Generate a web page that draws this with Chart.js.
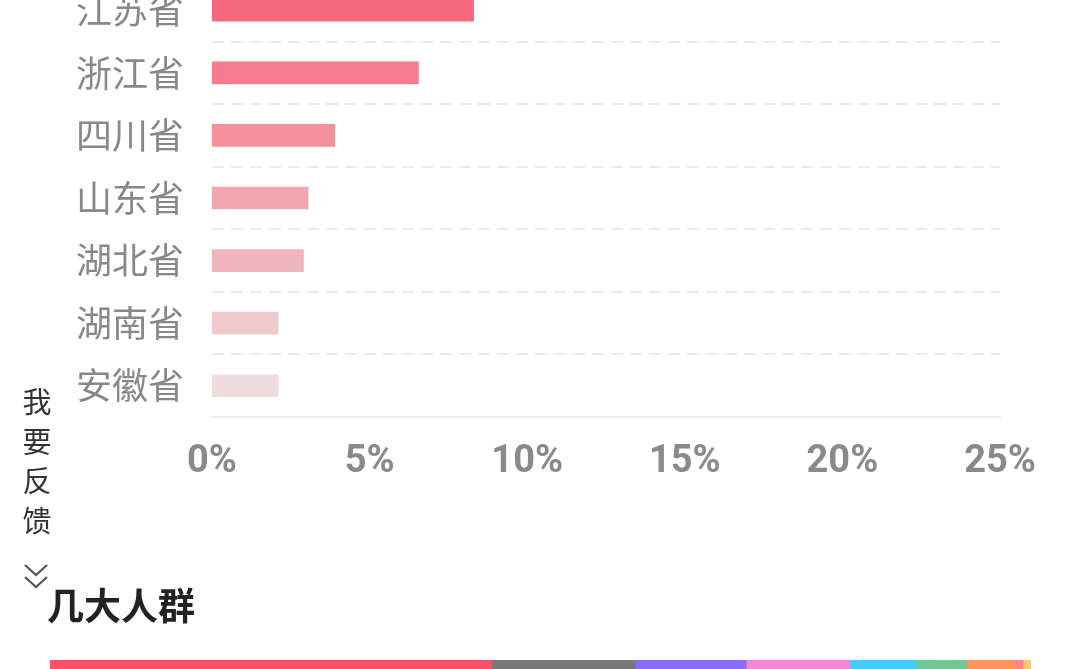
<!DOCTYPE html>
<html>
<head>
<meta charset="utf-8">
<script src="https://cdn.jsdelivr.net/npm/chart.js@4/dist/chart.umd.min.js"></script>
<style>
  html, body { margin: 0; padding: 0; background: #ffffff; overflow: hidden; }
  body { width: 1080px; height: 669px; position: relative; font-family: "Noto Sans CJK SC", sans-serif; }
  #mainWrap { position: absolute; left: 0; top: -21px; width: 1080px; height: 518px; }
  #stackWrap { position: absolute; left: 50px; top: 660px; width: 981px; height: 30px; }
  #feedback { position: absolute; left: 21px; top: 381px; width: 32px; font-size: 29px; line-height: 39.5px; color: #333; text-align: center; }
  #chev { position: absolute; left: 23px; top: 562px; }
  #title { position: absolute; left: 47px; top: 580px; font-size: 37px; font-weight: bold; color: #222; line-height: 48px; }
</style>
</head>
<body>
<div id="mainWrap"><canvas id="main"></canvas></div>
<div id="feedback">我<br>要<br>反<br>馈</div>
<svg id="chev" width="26" height="30" viewBox="0 0 26 30">
  <polyline points="2,3 13,13 24,3" fill="none" stroke="#555" stroke-width="2.2"/>
  <polyline points="2,15 13,25 24,15" fill="none" stroke="#555" stroke-width="2.2"/>
</svg>
<div id="title">几大人群</div>
<div id="stackWrap"><canvas id="stack"></canvas></div>
<script>
// ---- data: province share (%) ----
const provinces = ["江苏省", "浙江省", "四川省", "山东省", "湖北省", "湖南省", "安徽省"];
const provinceShare = [8.3, 6.55, 3.9, 3.05, 2.9, 2.1, 2.1];
const barColors = ["#f7677d", "#f77d8e", "#f3909c", "#f3a6af", "#f1b6bd", "#f0c9ce", "#eedcdf"];
const xTickValues = [0, 5, 10, 15, 20, 25];
const xTickLabels = ["0%", "5%", "10%", "15%", "20%", "25%"];

// ---- data: crowd groups (stacked strip, %) ----
const groupNames = ["人群1", "人群2", "人群3", "人群4", "人群5", "人群6", "人群7", "人群8", "人群9"];
const groupShare = [45.0, 14.6, 11.3, 10.6, 6.8, 5.1, 4.9, 0.8, 0.8];
const groupColors = ["#ff5069", "#787878", "#8a6cf8", "#f386d5", "#45cdf9", "#70c994", "#fd9561", "#f7868a", "#fdc96a"];

new Chart(document.getElementById("main"), {
  type: "bar",
  data: {
    labels: provinces,
    datasets: [{
      data: provinceShare,
      backgroundColor: barColors,
      barThickness: 22,
      borderWidth: 0
    }]
  },
  options: {
    indexAxis: "y",
    responsive: true,
    maintainAspectRatio: false,
    animation: false,
    layout: { padding: { left: 0, right: 80, top: 0, bottom: 0 } },
    plugins: { legend: { display: false }, tooltip: { enabled: false } },
    scales: {
      x: {
        min: xTickValues[0],
        max: xTickValues[xTickValues.length - 1],
        afterBuildTicks: (s) => { s.ticks = xTickValues.map(v => ({ value: v })); },
        afterFit: (s) => { s.height = 80; },
        grid: { display: false, drawTicks: false },
        border: { display: true, color: "#efefef", width: 2 },
        ticks: {
          padding: 23,
          color: "#8a8a8a",
          font: { family: "Roboto", size: 38, weight: "bold" },
          callback: (v, i) => xTickLabels[i],
          maxRotation: 0
        }
      },
      y: {
        afterFit: (s) => { s.width = 212; s.paddingTop = 0; s.paddingBottom = 0; },
        grid: { display: true, drawTicks: false, color: "#ebebeb", lineWidth: 2, offset: true },
        border: { display: false, dash: [12, 7] },
        ticks: {
          padding: 28,
          color: "#888888",
          font: { family: "Noto Sans CJK SC", size: 36 }
        }
      }
    }
  }
});

new Chart(document.getElementById("stack"), {
  type: "bar",
  data: {
    labels: [""],
    datasets: groupNames.map((n, i) => ({
      label: n,
      data: [groupShare[i]],
      backgroundColor: groupColors[i],
      borderWidth: 0,
      barPercentage: 1,
      categoryPercentage: 1
    }))
  },
  options: {
    indexAxis: "y",
    responsive: true,
    maintainAspectRatio: false,
    animation: false,
    layout: { padding: 0 },
    plugins: { legend: { display: false }, tooltip: { enabled: false } },
    scales: {
      x: { stacked: true, display: false, min: 0, max: groupShare.reduce((a, b) => a + b, 0) },
      y: { stacked: true, display: false }
    }
  }
});
</script>
</body>
</html>
